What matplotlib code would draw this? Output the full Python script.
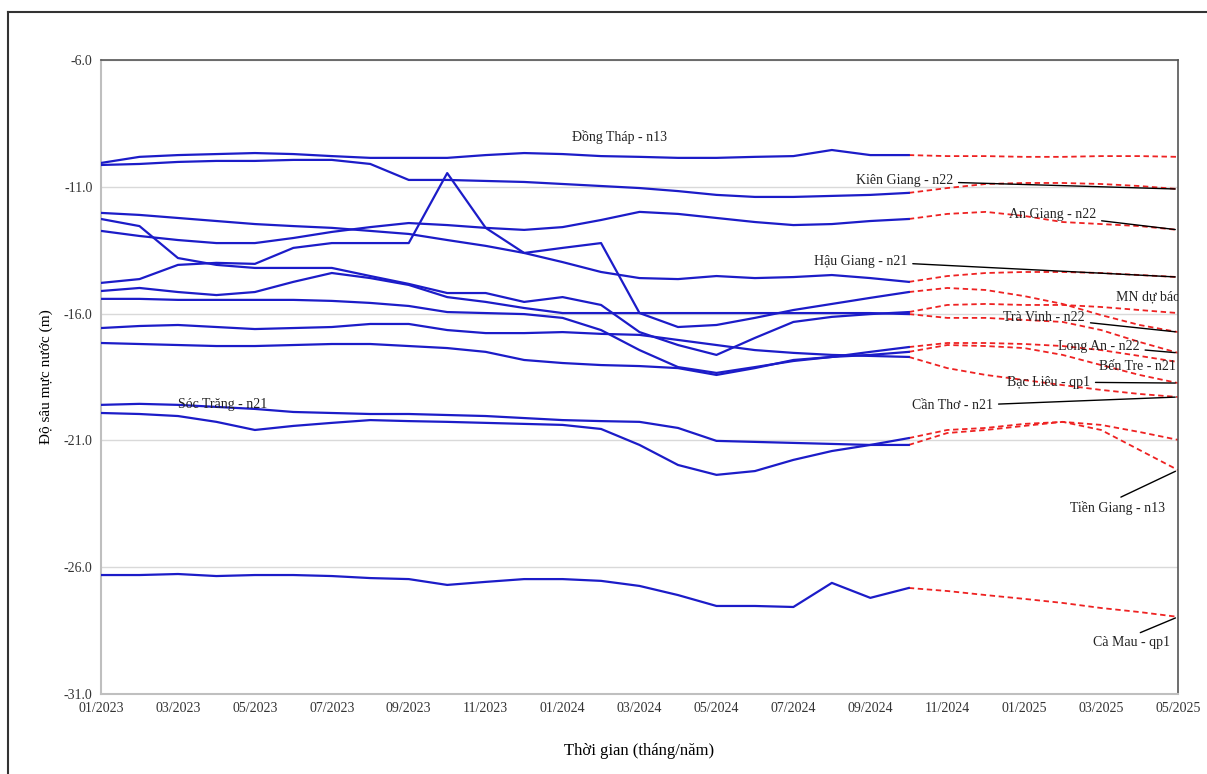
import numpy as np
import matplotlib
matplotlib.use("Agg")
import matplotlib.pyplot as plt
from matplotlib.lines import Line2D

plt.rcParams['font.family'] = ['Liberation Serif', 'DejaVu Serif']

# month labels 01/2023 .. 05/2025 (observed to 10/2024, forecast 10/2024 -> 05/2025)
months = ['%02d/%d' % (m, y) for y in (2023, 2024, 2025) for m in range(1, 13)][:29]
n_obs = 22

# observed depth (m), 01/2023 .. 10/2024
dong_thap = [-10.06, -9.82, -9.75, -9.71, -9.67, -9.71, -9.79, -9.86, -9.86, -9.86, -9.75,
             -9.67, -9.71, -9.79, -9.82, -9.86, -9.86, -9.82, -9.79, -9.55, -9.75, -9.75]
kien_giang = [-10.14, -10.10, -10.02, -9.98, -9.98, -9.94, -9.94, -10.10, -10.73, -10.73, -10.77,
              -10.81, -10.89, -10.97, -11.05, -11.17, -11.32, -11.40, -11.40, -11.36, -11.32, -11.24]
an_giang = [-12.74, -12.94, -13.10, -13.22, -13.22, -13.02, -12.78, -12.59, -12.43, -12.51, -12.62,
            -12.70, -12.59, -12.31, -11.99, -12.07, -12.23, -12.39, -12.51, -12.47, -12.35, -12.27]
hau_giang = [-12.03, -12.11, -12.23, -12.35, -12.47, -12.55, -12.62, -12.74, -12.86, -13.10, -13.33,
             -13.61, -13.97, -14.36, -14.60, -14.64, -14.52, -14.60, -14.56, -14.48, -14.60, -14.75]
tra_vinh = [-14.79, -14.64, -14.08, -14.00, -14.04, -13.41, -13.22, -13.22, -13.22, -10.46, -12.62,
            -13.61, -13.41, -13.22, -15.98, -16.53, -16.45, -16.17, -15.86, -15.62, -15.38, -15.15]
tram_khac = [-12.27, -12.55, -13.81, -14.08, -14.20, -14.20, -14.20, -14.52, -14.83, -15.19, -15.19,
             -15.54, -15.35, -15.66, -16.73, -17.24, -17.63, -16.96, -16.33, -16.13, -16.02, -15.94]
long_an = [-15.11, -14.99, -15.15, -15.27, -15.15, -14.75, -14.40, -14.60, -14.87, -15.35, -15.54,
           -15.78, -15.98, -15.98, -15.98, -15.98, -15.98, -15.98, -15.98, -15.98, -15.98, -16.02]
ben_tre = [-15.42, -15.42, -15.46, -15.46, -15.46, -15.46, -15.50, -15.58, -15.70, -15.94, -15.98,
           -16.02, -16.17, -16.65, -17.44, -18.11, -18.34, -18.11, -17.87, -17.71, -17.51, -17.32]
can_tho = [-16.57, -16.49, -16.45, -16.53, -16.61, -16.57, -16.53, -16.41, -16.41, -16.65, -16.77,
           -16.77, -16.73, -16.80, -16.84, -17.04, -17.24, -17.44, -17.55, -17.63, -17.67, -17.71]
bac_lieu = [-17.16, -17.20, -17.24, -17.28, -17.28, -17.24, -17.20, -17.20, -17.28, -17.36, -17.51,
            -17.83, -17.95, -18.03, -18.07, -18.15, -18.42, -18.15, -17.83, -17.71, -17.63, -17.51]
soc_trang = [-19.60, -19.56, -19.60, -19.68, -19.76, -19.88, -19.92, -19.96, -19.96, -20.00, -20.04,
             -20.12, -20.20, -20.24, -20.27, -20.51, -21.02, -21.06, -21.10, -21.14, -21.18, -21.18]
tien_giang = [-19.92, -19.96, -20.04, -20.27, -20.59, -20.43, -20.31, -20.20, -20.24, -20.27, -20.31,
              -20.35, -20.39, -20.55, -21.18, -21.97, -22.36, -22.21, -21.77, -21.42, -21.18, -20.91]
ca_mau = [-26.31, -26.31, -26.27, -26.35, -26.31, -26.31, -26.35, -26.43, -26.47, -26.70, -26.58,
          -26.47, -26.47, -26.54, -26.74, -27.10, -27.53, -27.53, -27.57, -26.62, -27.21, -26.82]

# forecast (MN du bao), 10/2024 .. 05/2025
dong_thap_f = [-9.75, -9.79, -9.79, -9.82, -9.82, -9.79, -9.79, -9.82]
kien_giang_f = [-11.24, -11.05, -10.89, -10.85, -10.85, -10.89, -10.97, -11.09]
an_giang_f = [-12.27, -12.07, -11.99, -12.15, -12.39, -12.47, -12.55, -12.70]
hau_giang_f = [-14.75, -14.52, -14.40, -14.36, -14.36, -14.40, -14.48, -14.56]
tra_vinh_f = [-15.15, -14.99, -15.07, -15.31, -15.62, -16.06, -16.45, -16.73]
tram_khac_f = [-15.94, -15.66, -15.62, -15.66, -15.66, -15.74, -15.86, -15.98]
long_an_f = [-16.02, -16.17, -16.17, -16.25, -16.33, -16.65, -17.12, -17.55]
ben_tre_f = [-17.32, -17.16, -17.16, -17.20, -17.28, -17.44, -17.67, -17.91]
can_tho_f = [-17.71, -18.15, -18.42, -18.62, -18.82, -19.01, -19.17, -19.29]
bac_lieu_f = [-17.51, -17.24, -17.28, -17.36, -17.63, -18.03, -18.42, -18.74]
soc_trang_f = [-21.18, -20.71, -20.59, -20.43, -20.27, -20.39, -20.67, -20.98]
tien_giang_f = [-20.91, -20.59, -20.51, -20.35, -20.27, -20.59, -21.38, -22.17]
ca_mau_f = [-26.82, -26.94, -27.10, -27.25, -27.41, -27.61, -27.77, -27.96]

observed = [dong_thap, kien_giang, an_giang, hau_giang, tra_vinh, tram_khac, long_an,
            ben_tre, can_tho, bac_lieu, soc_trang, tien_giang, ca_mau]
forecast = [dong_thap_f, kien_giang_f, an_giang_f, hau_giang_f, tra_vinh_f, tram_khac_f, long_an_f,
            ben_tre_f, can_tho_f, bac_lieu_f, soc_trang_f, tien_giang_f, ca_mau_f]

fig = plt.figure(figsize=(12.07, 7.74), dpi=100)
ax = fig.add_axes([0.0837, 0.1034, 0.8923, 0.8191])

x_obs = np.arange(n_obs)
x_fc = np.arange(n_obs - 1, len(months))
for obs, fc in zip(observed, forecast):
    ax.plot(x_fc, fc, color='#ee2222', lw=1.3, ls=(0, (3, 2)), zorder=2)
    ax.plot(x_obs, obs, color='#1c1cc8', lw=1.6, zorder=3)

ax.set_xlim(0, len(months) - 1)
ax.set_ylim(-31, -6)
ax.set_yticks(np.arange(-31, -5, 5))
ax.set_yticklabels(['%.1f' % v for v in np.arange(-31, -5, 5)], fontsize=10, color='#333333')
ax.set_xticks(np.arange(0, len(months), 2))
ax.set_xticklabels(months[::2], fontsize=10, color='#333333')
ax.tick_params(length=0, pad=6)
ax.grid(axis='y', color='#d9d9d9', lw=1)
ax.set_axisbelow(True)
for s in ('left', 'bottom'):
    ax.spines[s].set_color('#bfbfbf')
    ax.spines[s].set_linewidth(1.5)
for s in ('top', 'right'):
    ax.spines[s].set_color('#555555')
    ax.spines[s].set_linewidth(1.2)

ax.set_ylabel('Độ sâu mực nước (m)', fontsize=11, labelpad=8)
ax.set_xlabel('Thời gian (tháng/năm)', fontsize=12, labelpad=20)

lab = dict(fontsize=10, color='#222222')
last = len(months) - 1
# labels with leader lines to the end of each forecast
ax.annotate('Kiên Giang - n22', xy=(last, kien_giang_f[-1]), xytext=(22.15, -10.77), ha='right', va='center',
            arrowprops=dict(arrowstyle='-', color='black', lw=1), **lab)
ax.annotate('An Giang - n22', xy=(last, an_giang_f[-1]), xytext=(25.87, -12.11), ha='right', va='center',
            arrowprops=dict(arrowstyle='-', color='black', lw=1), **lab)
ax.annotate('Hậu Giang - n21', xy=(last, hau_giang_f[-1]), xytext=(20.96, -13.93), ha='right', va='center',
            arrowprops=dict(arrowstyle='-', color='black', lw=1), **lab)
ax.annotate('Trà Vinh - n22', xy=(last, tra_vinh_f[-1]), xytext=(25.58, -16.17), ha='right', va='center',
            arrowprops=dict(arrowstyle='-', color='black', lw=1), **lab)
ax.annotate('Long An - n22', xy=(last, long_an_f[-1]), xytext=(27.0, -17.28), ha='right', va='center',
            arrowprops=dict(arrowstyle='-', color='black', lw=1), **lab)
ax.annotate('Bạc Liêu - qp1', xy=(last, bac_lieu_f[-1]), xytext=(25.71, -18.70), ha='right', va='center',
            arrowprops=dict(arrowstyle='-', color='black', lw=1), **lab)
ax.annotate('Cần Thơ - n21', xy=(last, can_tho_f[-1]), xytext=(23.19, -19.64), ha='right', va='center',
            arrowprops=dict(arrowstyle='-', color='black', lw=1), **lab)
ax.annotate('Tiền Giang - n13', xy=(last, tien_giang_f[-1]), xytext=(26.42, -23.67), ha='center', va='center',
            arrowprops=dict(arrowstyle='-', color='black', lw=1, relpos=(0.45, 1.0)), **lab)
ax.annotate('Cà Mau - qp1', xy=(last, ca_mau_f[-1]), xytext=(26.78, -28.99), ha='center', va='center',
            arrowprops=dict(arrowstyle='-', color='black', lw=1, relpos=(0.5, 1.0)), **lab)
ax.text(27.95, -18.07, 'Bến Tre - n21', ha='right', va='center', **lab)
ax.text(28.05, -15.35, 'MN dự báo', ha='right', va='center', clip_on=True, **lab)
ax.text(13.49, -9.04, 'Đồng Tháp - n13', ha='center', va='center', **lab)
ax.text(3.15, -19.60, 'Sóc Trăng - n21', ha='center', va='center', **lab)

# outer frame
fig.add_artist(Line2D([8 / 1207, 8 / 1207], [0, 1 - 12 / 774], transform=fig.transFigure, color='#333333', lw=1.5))
fig.add_artist(Line2D([8 / 1207, 1], [1 - 12 / 774, 1 - 12 / 774], transform=fig.transFigure, color='#333333', lw=1.5))

fig.savefig('out.png', dpi=100)
